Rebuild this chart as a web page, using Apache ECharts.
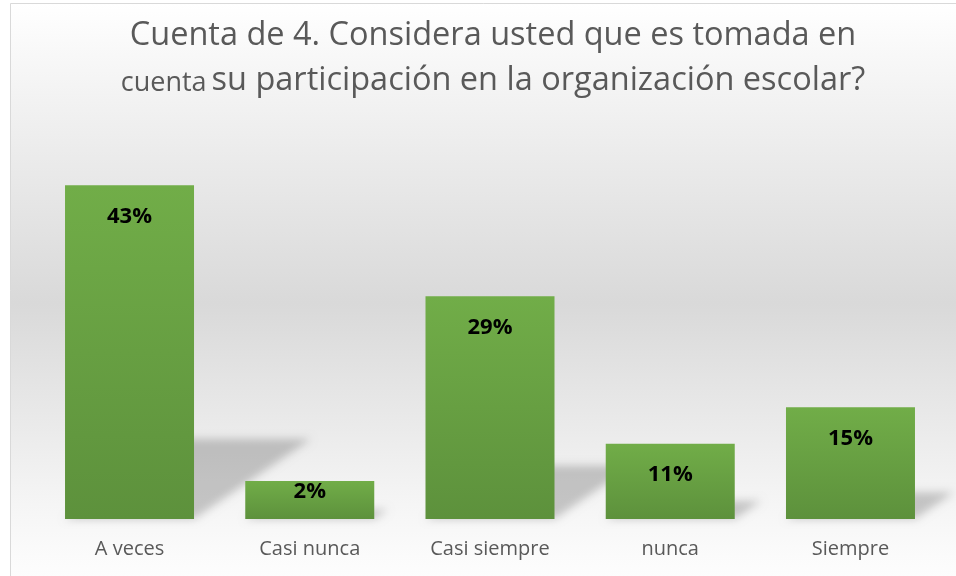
<!DOCTYPE html>
<html>
<head>
<meta charset="utf-8">
<script src="https://cdn.jsdelivr.net/npm/echarts@6/dist/echarts.min.js"></script>
<style>
html,body{margin:0;padding:0;background:#fff;}
#c{width:956px;height:576px;}
</style>
</head>
<body>
<div id="c"></div>
<script>
var categories = ['A veces', 'Casi nunca', 'Casi siempre', 'nunca', 'Siempre'];
var values = [43, 4.9, 28.7, 9.7, 14.4];
var valueLabels = ['43%', '2%', '29%', '11%', '15%'];
var titleLine1 = 'Cuenta de 4. Considera usted que es tomada en';
var titleLine2a = 'cuenta';
var titleLine2b = 'su participación en la organización escolar?';

var chart = echarts.init(document.getElementById('c'), null, {renderer: 'canvas'});
var FONT = 'Open Sans';
var SHIFT = 3000;

var option = {
  backgroundColor: '#ffffff',
  animation: false,
  graphic: [{
    type: 'rect',
    z: -10,
    silent: true,
    shape: {x: 10.5, y: 3.5, width: 960, height: 600},
    style: {
      fill: new echarts.graphic.LinearGradient(0, 0, 0, 1, [
        {offset: 0, color: '#ffffff'},
        {offset: 0.15, color: '#f3f3f3'},
        {offset: 0.5, color: '#d9d9d9'},
        {offset: 0.82, color: '#f4f4f4'},
        {offset: 0.92, color: '#fbfbfb'},
        {offset: 1, color: '#ffffff'}
      ]),
      stroke: '#d9d9d9',
      lineWidth: 1
    }
  }],
  title: {
    left: 488,
    textAlign: 'center',
    top: 2,
    text: '{a|' + titleLine1 + '}\n{b|' + titleLine2a + '} {a|' + titleLine2b + '}',
    textStyle: {
      fontWeight: 'normal',
      rich: {
        a: {fontFamily: FONT, fontSize: 32.5, fontWeight: 'normal', color: '#595959', lineHeight: 45, verticalAlign: 'bottom'},
        b: {fontFamily: FONT, fontSize: 27, fontWeight: 'normal', color: '#595959', lineHeight: 45, verticalAlign: 'bottom'}
      }
    }
  },
  grid: {left: 39.4, right: 15.4, bottom: 57, top: 131, containLabel: false},
  xAxis: {
    type: 'category',
    data: categories,
    axisLine: {show: false},
    axisTick: {show: false},
    axisLabel: {fontFamily: FONT, fontSize: 20, color: '#595959', margin: 20}
  },
  yAxis: {
    type: 'value', min: 0, max: 50,
    show: false,
    splitLine: {show: false}
  },
  series: [{
    type: 'custom',
    z: 1,
    silent: true,
    clip: false,
    data: values.map(function (v, i) { return [i, v]; }),
    encode: {x: 0, y: 1},
    renderItem: function (params, api) {
      var idx = api.value(0);
      var top = api.coord([idx, api.value(1)]);
      var base = api.coord([idx, 0]);
      var bw = 129;
      var x0 = base[0] - bw / 2, x1 = base[0] + bw / 2;
      var h = base[1] - top[1];
      var dx = 0.35 * h, dy = 0.24 * h;
      var pts = [[x0, base[1]], [x1, base[1]], [x1 + dx, base[1] - dy], [x0 + dx, base[1] - dy]];
      return {
        type: 'polygon',
        shape: {points: pts.map(function (p) { return [p[0] - SHIFT, p[1]]; })},
        style: {
          fill: '#000000',
          shadowBlur: 9,
          shadowOffsetX: SHIFT,
          shadowOffsetY: 0,
          shadowColor: 'rgba(0,0,0,0.2)'
        }
      };
    }
  }, {
    type: 'bar',
    z: 3,
    data: values.map(function (v, i) {
      return {value: v, label: {distance: i === 1 ? 0 : 20}};
    }),
    barWidth: 129,
    itemStyle: {
      color: new echarts.graphic.LinearGradient(0, 0, 0, 1, [
        {offset: 0, color: '#71ad48'},
        {offset: 1, color: '#5d913c'}
      ])
    },
    label: {
      show: true,
      position: 'insideTop',
      fontFamily: FONT,
      fontWeight: 'bold',
      fontSize: 22,
      color: '#000000',
      formatter: function (p) { return valueLabels[p.dataIndex]; }
    }
  }]
};
chart.setOption(option);
</script>
</body>
</html>
